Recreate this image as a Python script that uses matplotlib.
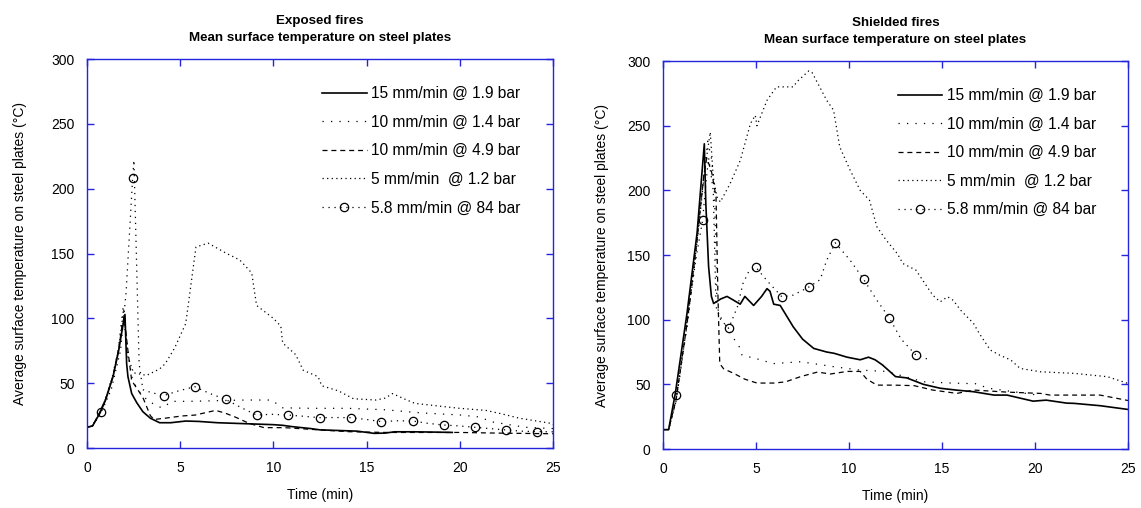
import matplotlib
matplotlib.use('Agg')
import matplotlib.pyplot as plt

plt.rcParams['font.family'] = ['Liberation Sans', 'DejaVu Sans']
plt.rcParams['lines.scale_dashes'] = False

# ---------------- data ----------------
titles = ["Exposed fires\nMean surface temperature on steel plates",
          "Shielded fires\nMean surface temperature on steel plates"]
xlabel = "Time (min)"
ylabel = "Average surface temperature on steel plates (\u00b0C)"
xticks = [0, 5, 10, 15, 20, 25]
yticks = [0, 50, 100, 150, 200, 250, 300]
labels = ["15 mm/min @ 1.9 bar", "10 mm/min @ 1.4 bar", "10 mm/min @ 4.9 bar",
          "5 mm/min  @ 1.2 bar", "5.8 mm/min @ 84 bar"]

# Left panel: exposed fires
L_t_a = [0, 0.3, 0.7, 1.0, 1.4, 1.7, 1.9, 2.04, 2.13, 2.2, 2.4, 2.67, 3.0, 3.4, 3.9, 4.5, 5.3, 6.0,
         7.0, 8.0, 9.0, 10.0, 10.5, 11.0, 12.0, 12.5, 13.5, 14.5, 15.4, 16.0, 16.5, 17.5, 18.5, 19.6]
L_v_a = [16, 17, 27, 37, 55, 75, 92, 103, 65, 55, 42, 35, 28, 23, 19.5, 19.5, 20.8, 20.5,
         19.5, 19, 18.5, 18, 17.5, 16.5, 15, 14, 13.5, 13, 11.3, 11.5, 12.5, 12.5, 12.3, 12]

L_t_b = [0, 0.3, 0.7, 1.0, 1.4, 1.7, 1.95, 2.15, 2.4, 2.7, 3.3, 4.0, 4.6, 5.5, 7.0, 8.5, 9.9, 10.5,
         12.0, 14.0, 16.0, 18.0, 20.0, 21.0, 21.8, 23.5, 25]
L_v_b = [16, 17, 28, 38, 57, 78, 110, 80, 55, 45, 36, 31, 36, 36, 36.5, 37, 37, 31,
         30.6, 30.6, 29.5, 27, 25.5, 24, 20, 16, 15]

L_t_c = [0, 0.3, 0.7, 1.0, 1.4, 1.7, 1.9, 2.0, 2.2, 2.4, 3.0, 3.4, 3.6, 4.2, 5.1, 5.8, 6.9, 7.4,
         8.0, 8.7, 9.5, 10.6, 12.0, 14.0, 16.0, 18.0, 20.0, 22.0, 25.0]
L_v_c = [16, 17, 28, 38, 56, 76, 96, 101, 75, 52, 39, 25, 22, 23, 24.7, 25.4, 29, 27,
         23.6, 19, 15.7, 15.7, 14.4, 12.6, 12, 12, 12, 11.5, 11]

L_t_d = [0, 0.3, 0.7, 1.0, 1.4, 1.7, 1.95, 2.2, 2.5, 3.2, 3.9, 4.2, 4.7, 5.3, 5.85, 6.5, 7.5, 8.2,
         8.84, 9.1, 10.0, 10.4, 10.5, 11.2, 11.6, 12.4, 12.6, 13.5, 14.3, 15.5, 16.0, 16.4, 17.0,
         17.6, 19.1, 20.0, 21.4, 22.2, 23.2, 24.9, 25]
L_v_d = [16, 17, 28, 38, 56, 76, 105, 70, 58, 56, 61, 65, 77, 96, 155, 158, 150, 145,
         135, 110, 100, 94, 81, 72, 60, 55, 48, 44, 38, 37, 38.5, 42, 38,
         34.4, 32, 30.6, 29, 26.5, 23, 19, 18]

L_t_e = [0, 0.3, 0.77, 1.3, 1.8, 2.1, 2.3, 2.45, 2.52, 2.65, 2.8, 3.0, 3.4, 4.11, 4.9, 5.78, 6.6,
         7.44, 8.3, 9.1, 9.9, 10.77, 11.6, 12.49, 13.3, 14.15, 15.0, 15.8, 16.6, 17.48, 18.3,
         19.16, 20.0, 20.8, 21.6, 22.5, 23.3, 24.17, 25]
L_v_e = [16, 17, 27.5, 45, 75, 120, 170, 208, 222, 150, 65, 45, 43, 40.4, 44, 47.3, 42,
         37.5, 31, 25.4, 26, 25.4, 24.5, 23.4, 23.5, 23.4, 22, 20.3, 21, 20.8, 19,
         17.7, 17, 16, 15, 13.9, 13, 12.6, 12.5]
L_circ_t = [0.77, 2.45, 4.11, 5.78, 7.44, 9.1, 10.77, 12.49, 14.15, 15.8, 17.48, 19.16,
            20.8, 22.5, 24.17]

# Right panel: shielded fires
R_t_a = [0, 0.3, 0.66, 1.29, 1.83, 2.22, 2.3, 2.45, 2.6, 2.72, 3.1, 3.44, 3.8, 4.15, 4.4, 4.87,
         5.3, 5.59, 5.75, 5.95, 6.3, 7.0, 7.5, 8.1, 8.8, 9.2, 9.9, 10.6, 11.05, 11.4, 11.8, 12.5,
         13.1, 14.0, 14.9, 15.8, 16.7, 17.8, 18.5, 19.9, 20.6, 21.7, 22.1, 23.5, 25]
R_v_a = [15, 15, 43, 105, 167, 236, 190, 141, 118, 112.5, 116, 118, 115, 112, 118, 111,
         118, 124, 122, 112, 111, 94.5, 85, 77.8, 75, 74, 71, 69, 71, 69, 65, 56,
         55, 50, 47, 45.5, 44.3, 41.7, 41.7, 37, 37.8, 35.5, 35.3, 33.5, 30.6]

R_t_b = [0, 0.3, 0.7, 1.3, 1.8, 2.2, 2.4, 2.6, 2.75, 2.85, 2.9, 3.17, 3.5, 3.8, 4.1, 4.25, 5.3,
         5.9, 7.4, 9.2, 10.6, 12.0, 12.75, 14.0, 15.5, 16.8, 17.5, 18.5, 20.0]
R_v_b = [15, 15, 37, 96, 155, 210, 238, 225, 205, 150, 110, 99.7, 93, 85.5, 79, 72.6, 68.8,
         66, 67.5, 63.6, 61, 60, 57, 52, 51, 50.5, 47, 45, 42]

R_t_c = [0, 0.3, 0.7, 1.3, 1.8, 2.2, 2.35, 2.6, 2.85, 2.95, 3.05, 3.26, 3.8, 4.4, 5.05, 6.0, 6.6,
         7.4, 8.3, 9.0, 9.9, 10.6, 10.96, 11.5, 12.4, 13.5, 14.5, 15.8, 16.7, 18.5, 20.3, 20.8,
         22.1, 23.5, 25]
R_v_c = [15, 15, 38, 98, 158, 212, 225, 215, 195, 120, 66, 62, 58.5, 54, 51, 51, 52,
         56, 59.5, 58, 60, 60, 54, 49.4, 49.4, 49, 45.6, 43, 45.6, 44, 43, 41.7,
         41.7, 41.7, 37.5]

R_t_d = [0, 0.3, 0.7, 1.3, 1.8, 2.2, 2.54, 2.7, 2.9, 3.08, 3.6, 4.15, 4.7, 4.96, 5.05, 5.59, 6.1,
         6.66, 7.0, 7.2, 7.83, 8.0, 8.8, 9.17, 9.5, 10.06, 10.6, 11.1, 11.5, 12.0, 12.6, 12.9,
         13.6, 14.2, 14.5, 14.9, 15.3, 15.6, 16.0, 16.7, 17.0, 17.6, 18.1, 18.7, 19.2, 20.3,
         22.1, 23.9, 25]
R_v_d = [15, 15, 37, 97, 157, 212, 245, 210, 195, 191, 205, 223, 251.6, 258, 250, 269.6, 280,
         280, 280, 284, 292.3, 291.5, 269.6, 262, 233.6, 215.6, 200, 192.4, 171.8, 161.5, 151,
         143.4, 138.3, 125.4, 119, 113.8, 117.7, 115, 107.4, 97, 89.4, 76.5, 72.6, 68.8, 62.3,
         59.7, 58.5, 55.9, 50.7]

R_t_e = [0, 0.3, 0.72, 1.3, 1.8, 2.13, 2.3, 2.45, 2.7, 2.85, 3.1, 3.53, 4.0, 4.3, 4.6, 5.0, 5.6,
         6.39, 7.0, 7.86, 8.45, 8.8, 9.26, 10.06, 10.78, 11.5, 12.16, 12.8, 13.6, 14.27]
R_v_e = [15, 15, 41.7, 100, 150, 177, 205, 225, 200, 110, 100, 93.3, 110, 128, 137, 140.4, 130,
         117.7, 119, 125.4, 131, 146, 159.4, 146, 131.3, 115, 101.5, 85, 72.6, 69.3]
R_circ_t = [0.72, 2.13, 3.53, 5.0, 6.39, 7.86, 9.26, 10.78, 12.16, 13.6]

# ---------------- styles ----------------
BLUE = '#2424dc'
styles = [
    dict(linestyle='-', linewidth=1.2),
    dict(linestyle=(0, (0.9, 5.2)), linewidth=0.9),
    dict(linestyle=(0, (3.6, 2.8)), linewidth=0.9),
    dict(linestyle=(0, (0.9, 2.4)), linewidth=0.9),
    dict(linestyle=(0, (0.9, 3.4)), linewidth=0.9, marker='o', markersize=6,
         markerfacecolor='none', markeredgecolor='black', markeredgewidth=0.9),
]

fig = plt.figure(figsize=(11.41, 5.08), dpi=100)
axL = fig.add_axes([0.0762, 0.1181, 0.4084, 0.7657])
axR = fig.add_axes([0.5811, 0.1161, 0.4075, 0.7638])

panels = [
    (axL, [(L_t_a, L_v_a), (L_t_b, L_v_b), (L_t_c, L_v_c), (L_t_d, L_v_d), (L_t_e, L_v_e)], L_circ_t, titles[0], 17),
    (axR, [(R_t_a, R_v_a), (R_t_b, R_v_b), (R_t_c, R_v_c), (R_t_d, R_v_d), (R_t_e, R_v_e)], R_circ_t, titles[1], 13),
]

for ax, series, circ, title, ylp in panels:
    for i, ((t, v), st, lab) in enumerate(zip(series, styles, labels)):
        kw = dict(st)
        if 'marker' in kw:
            kw['markevery'] = [j for j, tt in enumerate(t) if tt in circ]
        ax.plot(t, v, color='black', label=lab, **kw)
    ax.set_xlim(0, 25)
    ax.set_ylim(0, 300)
    ax.set_xticks(xticks)
    ax.set_yticks(yticks)
    for sp in ax.spines.values():
        sp.set_color(BLUE)
        sp.set_linewidth(1.0)
    ax.tick_params(direction='in', top=True, right=True, color=BLUE, length=5, width=1,
                   labelsize=10, pad=9)
    ax.set_xlabel(xlabel, fontsize=10, labelpad=10)
    ax.set_ylabel(ylabel, fontsize=10, labelpad=ylp)
    ax.set_title(title, fontsize=9.6, fontweight='bold', pad=13, linespacing=1.5)
    ax.legend(loc='upper left', bbox_to_anchor=(0.505, 0.93), frameon=False, fontsize=11.2,
              handlelength=2.85, handletextpad=0.3, labelspacing=0.87, borderpad=0,
              borderaxespad=0, numpoints=1)

fig.savefig('out.png', dpi=100)
